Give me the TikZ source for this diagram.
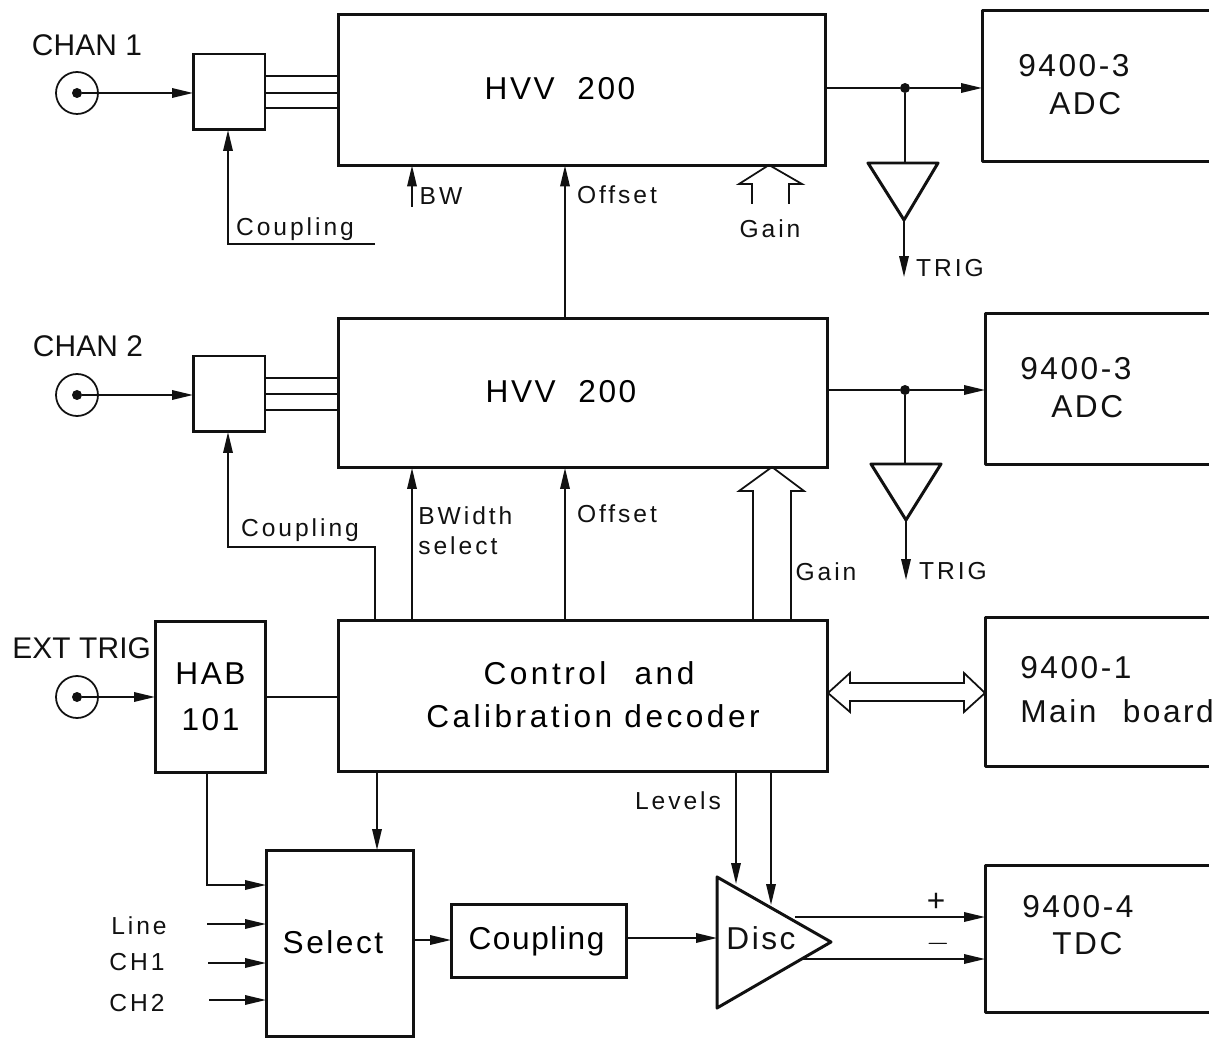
\documentclass[tikz,border=0pt]{standalone}
\usepackage{fontspec}
\setmainfont[LetterSpace=8]{Liberation Sans}
\usetikzlibrary{arrows.meta,calc}
\definecolor{ink}{HTML}{111111}

\begin{document}
\begin{tikzpicture}[
  x=0.02cm, y=-0.02cm,
  box/.style={rectangle, draw=ink, line width=1.7pt, inner sep=0pt, outer sep=0pt, align=center, font=\fontsize{18}{25}\selectfont},
  openbox/.style={rectangle, inner sep=0pt, outer sep=0pt},
  frame/.style={draw=ink, line width=1.7pt, line join=round},
  jack/.style={circle, draw=ink, line width=1pt, minimum size=0.84cm, inner sep=0pt},
  pin/.style={circle, fill=ink, minimum size=0.2cm, inner sep=0pt},
  junc/.style={circle, fill=ink, minimum size=0.2cm, inner sep=0pt},
  wire/.style={draw=ink, line width=1pt},
  arr/.style={wire, -{Stealth[length=0.42cm, width=0.19cm, inset=0pt]}},
  hollow/.style={draw=ink, line width=1pt, line join=miter},
  amp/.style={draw=ink, line width=1.7pt, line join=round},
  big/.style={text=ink, inner sep=0pt, align=left, font=\fontsize{18}{21.5}\selectfont},
  mid/.style={text=ink, inner sep=0pt, font=\fontsize{17}{20}\selectfont\addfontfeature{LetterSpace=0.5}},
  small/.style={text=ink, inner sep=0pt, align=left, font=\fontsize{14}{17}\selectfont\addfontfeature{LetterSpace=12}}
]
  \useasboundingbox (0,0) rectangle (1221,1040);

  % channel 1
  \node[mid] (chanone) at (87,45) {CHAN 1};
  \node[jack] (jackone) at (77,93) {};
  \node[pin] (pinone) at (77,93) {};
  \node[box, minimum width=1.44cm, minimum height=1.52cm] (smallone) at (229,92) {};
  \node[box, minimum width=9.76cm, minimum height=3.02cm] (hvvone) at (582,90) {\raisebox{1.4pt}{HVV\ \ 200}\hspace{0.88cm}};
  \node[openbox, minimum width=4.54cm, minimum height=3.04cm] (adcone) at (1095.5,86) {};
  \draw[frame] (adcone.north east) -- (adcone.north west) -- (adcone.south west) -- (adcone.south east);
  \node[big, anchor=west] (adconetxt) at (1018,85) {9400-3\\\hspace*{0.62cm}ADC};
  \draw[arr] (pinone) -- (smallone.west |- pinone);
  \draw[wire] (smallone.east |- 0,76) -- (hvvone.west |- 0,76);
  \draw[wire] (smallone.east |- 0,93) -- (hvvone.west |- 0,93);
  \draw[wire] (smallone.east |- 0,108) -- (hvvone.west |- 0,108);
  \coordinate (coupone) at (228,244);
  \coordinate (coupendone) at (375,244);
  \node[small] (couponetxt) at (295,229) {Coupling};
  \draw[arr] (coupendone) -- (coupone) -- (coupone |- smallone.south);
  \coordinate (bwone) at (412,207);
  \draw[arr] (bwone) -- (bwone |- hvvone.south);
  \node[small] (bwonetxt) at (441,196) {BW};
  \node[small] (offsetonetxt) at (617,195) {Offset};
  \coordinate (gainone) at (769,165);
  \draw[hollow] (752,204) -- (752,184) -- (739,184) -- (gainone) -- (802,184) -- (789,184) -- (789,204);
  \node[small] (gainonetxt) at (770,229) {Gain};
  \node[junc] (juncone) at (905,88) {};
  \draw[wire] (hvvone.east |- juncone) -- (juncone);
  \draw[arr] (juncone) -- (adcone.west |- juncone);
  \coordinate (ampla) at (868,163);
  \coordinate (amplb) at (938,163);
  \coordinate (amplc) at (904,220);
  \draw[amp] (ampla) -- (amplb) -- (amplc) -- cycle;
  \draw[wire] (juncone) -- (juncone |- ampla);
  \coordinate (trigone) at (904,277);
  \draw[arr] (amplc) -- (trigone);
  \node[small] (trigonetxt) at (950,268) {TRIG};

  % channel 2
  \node[mid] (chantwo) at (88,346) {CHAN 2};
  \node[jack] (jacktwo) at (77,395) {};
  \node[pin] (pintwo) at (77,395) {};
  \node[box, minimum width=1.44cm, minimum height=1.52cm] (smalltwo) at (229,394) {};
  \node[box, minimum width=9.8cm, minimum height=3cm] (hvvtwo) at (583,393) {\raisebox{1.4pt}{HVV\ \ 200}\hspace{0.88cm}};
  \node[openbox, minimum width=4.48cm, minimum height=3.04cm] (adctwo) at (1097,389) {};
  \draw[frame] (adctwo.north east) -- (adctwo.north west) -- (adctwo.south west) -- (adctwo.south east);
  \node[big, anchor=west] (adctwotxt) at (1020,388) {9400-3\\\hspace*{0.62cm}ADC};
  \draw[arr] (pintwo) -- (smalltwo.west |- pintwo);
  \draw[wire] (smalltwo.east |- 0,378) -- (hvvtwo.west |- 0,378);
  \draw[wire] (smalltwo.east |- 0,394) -- (hvvtwo.west |- 0,394);
  \draw[wire] (smalltwo.east |- 0,410) -- (hvvtwo.west |- 0,410);
  \draw[arr] (hvvtwo.north -| 565,0) -- (hvvone.south -| 565,0);
  \node[junc] (junctwo) at (905,390) {};
  \draw[wire] (hvvtwo.east |- junctwo) -- (junctwo);
  \draw[arr] (junctwo) -- (adctwo.west |- junctwo);
  \coordinate (ampma) at (871,464);
  \coordinate (ampmb) at (941,464);
  \coordinate (ampmc) at (906,520);
  \draw[amp] (ampma) -- (ampmb) -- (ampmc) -- cycle;
  \draw[wire] (junctwo) -- (junctwo |- ampma);
  \coordinate (trigtwo) at (906,580);
  \draw[arr] (ampmc) -- (trigtwo);
  \node[small] (trigtwotxt) at (953,571) {TRIG};

  % control row
  \node[mid, anchor=west] (exttxt) at (12,648) {EXT TRIG};
  \node[jack] (jackext) at (77,697) {};
  \node[pin] (pinext) at (77,697) {};
  \node[box, minimum width=2.22cm, minimum height=3.04cm] (hab) at (210.5,697) {\raisebox{1.2pt}{HAB}\\101};
  \node[box, minimum width=9.8cm, minimum height=3.02cm, font=\fontsize{18}{25}\selectfont\addfontfeature{LetterSpace=11}] (ctrl) at (583,696) {\hspace*{0.24cm}\raisebox{1.7pt}{Control\hspace{0.32cm} and}\\\hspace*{0.4cm}\raisebox{1.7pt}{Calibration decoder}};
  \node[openbox, minimum width=4.48cm, minimum height=3cm] (mainb) at (1097,692) {};
  \draw[frame] (mainb.north east) -- (mainb.north west) -- (mainb.south west) -- (mainb.south east);
  \node[big, anchor=west, font=\fontsize{18}{25}\selectfont] (mainbtxt) at (1020,690) {9400-1\\Main\hspace{0.3cm} board};
  \draw[arr] (pinext) -- (hab.west |- pinext);
  \draw[wire] (hab.east |- pinext) -- (ctrl.west |- pinext);
  \coordinate (coupbend) at (228,547);
  \draw[arr] (ctrl.north -| 375,0) -- (375,547) -- (coupbend) -- (coupbend |- smalltwo.south);
  \node[small] (couptwotxt) at (300,530) {Coupling};
  \draw[arr] (ctrl.north -| 412,0) -- (hvvtwo.south -| 412,0);
  \node[small, anchor=west] (bwidthtxt) at (418,531) {BWidth\\select};
  \draw[arr] (ctrl.north -| 565,0) -- (hvvtwo.south -| 565,0);
  \node[small] (offsettwotxt) at (617,514) {Offset};
  \coordinate (gaintwo) at (772,467);
  \draw[hollow] (ctrl.north -| 753,0) -- (753,491) -- ++(-14,0) -- (gaintwo) -- (804,491) -- ++(-13,0) -- (ctrl.north -| 791,0);
  \node[small] (gaintwotxt) at (826,572) {Gain};
  \coordinate (busl) at (ctrl.east |- 0,693);
  \coordinate (busr) at (mainb.west |- 0,693);
  \draw[hollow] (busl) -- (850,673) -- (850,683) -- (964,683) -- (964,673) -- (busr) -- (964,712) -- (964,701) -- (850,701) -- (850,712) -- cycle;

  % trigger path
  \node[box, minimum width=2.96cm, minimum height=3.74cm] (sel) at (340,943.5) {\raisebox{1.7pt}{Select}\hspace{0.28cm}};
  \node[box, minimum width=3.52cm, minimum height=1.46cm, font=\fontsize{18}{25}\selectfont\addfontfeature{LetterSpace=5}] (coup) at (539,941) {Coupling\hspace{0.1cm}};
  \coordinate (disca) at (717,877);
  \coordinate (discb) at (717,1008);
  \coordinate (discc) at (831,942);
  \draw[amp] (disca) -- (discb) -- (discc) -- cycle;
  \node[big] (disctxt) at (761,938) {Disc};
  \node[openbox, minimum width=4.48cm, minimum height=2.96cm] (tdc) at (1097,939) {};
  \draw[frame] (tdc.north east) -- (tdc.north west) -- (tdc.south west) -- (tdc.south east);
  \node[big, anchor=west] (tdctxt) at (1022,925) {9400-4\\\hspace*{0.6cm}TDC};
  \draw[arr] (hab.south -| 207,0) -- (207,885) -- (sel.west |- 0,885);
  \coordinate (linein) at (207,924);
  \coordinate (chonein) at (208,963);
  \coordinate (chtwoin) at (209,1000);
  \draw[arr] (linein) -- (sel.west |- linein);
  \draw[arr] (chonein) -- (sel.west |- chonein);
  \draw[arr] (chtwoin) -- (sel.west |- chtwoin);
  \node[small] (linetxt) at (139,926) {Line};
  \node[small] (chonetxt) at (137,962) {CH1};
  \node[small] (chtwotxt) at (137,1003) {CH2};
  \draw[arr] (ctrl.south -| 377,0) -- (sel.north -| 377,0);
  \draw[arr] (sel.east |- 0,940) -- (coup.west |- 0,940);
  \draw[arr] (coup.east |- 0,938) -- (disca |- 0,938);
  \coordinate (levela) at (736,884);
  \coordinate (levelb) at (771,905);
  \draw[arr] (ctrl.south -| levela) -- (levela);
  \draw[arr] (ctrl.south -| levelb) -- (levelb);
  \node[small] (levelstxt) at (678,801) {Levels};
  \coordinate (discp) at (795,917);
  \coordinate (discn) at (803,959);
  \draw[arr] (discp) -- (tdc.west |- discp);
  \draw[arr] (discn) -- (tdc.west |- discn);
  \node[big] (plustxt) at (936,902) {+};
  \node[big] (minustxt) at (938,944) {$-$};
\end{tikzpicture}
\end{document}
